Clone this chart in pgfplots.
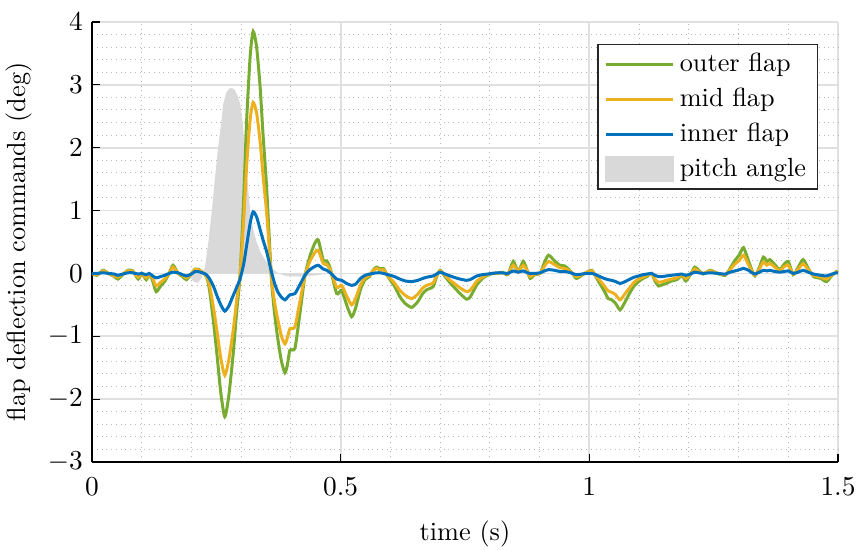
\documentclass[border=0pt]{standalone}
\usepackage{pgfplots}
\usepackage{pgfplotstable}
\pgfplotsset{compat=1.18}

\definecolor{outerc}{RGB}{119,172,48}
\definecolor{midc}{RGB}{237,177,32}
\definecolor{innerc}{RGB}{0,114,189}
\definecolor{pitchc}{RGB}{217,217,217}

% flap deflection commands (deg) of the three flaps
\pgfplotstableread{
t      outer  mid    inner
0.000  0.00   0.00   0.00
0.010 -0.03  -0.02   0.00
0.022  0.05   0.04   0.01
0.033  0.00   0.00   0.00
0.045 -0.05  -0.04  -0.01
0.052 -0.09  -0.06  -0.03
0.062 -0.02  -0.01  -0.01
0.072  0.05   0.04   0.01
0.082  0.04   0.03   0.01
0.093 -0.09  -0.06  -0.01
0.100  0.00   0.00   0.00
0.109 -0.10  -0.07  -0.02
0.115 -0.02  -0.02   0.00
0.122 -0.12  -0.08  -0.04
0.129 -0.29  -0.20  -0.07
0.138 -0.20  -0.14  -0.05
0.146 -0.13  -0.09  -0.03
0.155  0.00   0.00   0.00
0.163  0.13   0.10   0.02
0.173  0.00   0.00   0.01
0.182 -0.05  -0.03  -0.02
0.190 -0.10  -0.07  -0.04
0.200  0.00   0.00  -0.01
0.207  0.07   0.06   0.03
0.213  0.07   0.06   0.03
0.222  0.02   0.02   0.01
0.230 -0.05  -0.04  -0.02
0.236 -0.25  -0.18  -0.08
0.244 -0.75  -0.53  -0.20
0.251 -1.27  -0.90  -0.35
0.259 -1.90  -1.35  -0.50
0.267 -2.28  -1.62  -0.60
0.275 -1.95  -1.38  -0.52
0.284 -1.27  -0.90  -0.35
0.291 -0.60  -0.42  -0.22
0.298  0.00   0.00  -0.08
0.305  1.20   0.85   0.15
0.311  2.44   1.72   0.45
0.318  3.45   2.45   0.80
0.324  3.85   2.72   0.98
0.331  3.60   2.55   0.90
0.338  2.97   2.10   0.70
0.344  2.20   1.55   0.53
0.351  1.38   0.98   0.35
0.361 -0.11  -0.08   0.02
0.368 -0.70  -0.50  -0.18
0.374 -1.06  -0.75  -0.30
0.381 -1.40  -1.00  -0.38
0.388 -1.58  -1.12  -0.42
0.393 -1.45  -1.02  -0.38
0.398 -1.22  -0.88  -0.34
0.408 -1.19  -0.85  -0.32
0.418 -0.64  -0.45  -0.18
0.428 -0.05  -0.04  -0.03
0.438  0.27   0.19   0.06
0.448  0.48   0.33   0.11
0.455  0.53   0.37   0.13
0.465  0.21   0.16   0.07
0.472  0.20   0.14   0.05
0.479  0.08   0.06   0.01
0.492 -0.32  -0.22  -0.09
0.502 -0.27  -0.19  -0.11
0.512 -0.50  -0.36  -0.16
0.522 -0.69  -0.50  -0.19
0.530 -0.55  -0.40  -0.17
0.540 -0.25  -0.18  -0.08
0.549 -0.10  -0.07  -0.03
0.558 -0.05  -0.03  -0.01
0.565  0.05   0.04   0.00
0.572  0.10   0.08   0.01
0.580  0.07   0.05   0.01
0.586  0.08   0.06   0.00
0.595 -0.05  -0.04  -0.02
0.608 -0.20  -0.15  -0.05
0.619 -0.37  -0.27  -0.09
0.630 -0.48  -0.35  -0.12
0.643 -0.54  -0.40  -0.13
0.655 -0.45  -0.33  -0.11
0.665 -0.32  -0.23  -0.08
0.673 -0.26  -0.19  -0.06
0.686 -0.21  -0.15  -0.04
0.693 -0.05  -0.03  -0.01
0.700  0.05   0.04   0.02
0.710 -0.05  -0.03  -0.01
0.720 -0.15  -0.11  -0.04
0.727 -0.21  -0.15  -0.06
0.740 -0.32  -0.23  -0.09
0.753 -0.41  -0.29  -0.11
0.760 -0.38  -0.27  -0.10
0.767 -0.28  -0.20  -0.07
0.774 -0.18  -0.12  -0.04
0.785 -0.08  -0.06  -0.02
0.795 -0.03  -0.02  -0.01
0.805  0.00   0.00   0.00
0.814  0.00   0.00   0.01
0.825  0.02   0.01   0.01
0.836 -0.02  -0.01   0.00
0.847  0.19   0.13   0.04
0.857  0.03   0.03   0.02
0.867  0.19   0.13   0.04
0.875  0.05   0.04   0.01
0.881 -0.08  -0.05   0.00
0.890 -0.02  -0.01   0.00
0.901  0.00   0.00   0.01
0.910  0.18   0.12   0.04
0.918  0.29   0.19   0.06
0.930  0.20   0.14   0.05
0.941  0.13   0.09   0.03
0.950  0.12   0.08   0.03
0.958  0.07   0.05   0.02
0.966  0.00   0.00   0.00
0.974 -0.08  -0.05  -0.02
0.985 -0.03  -0.02  -0.01
0.995  0.02   0.02   0.00
1.005  0.05   0.04   0.00
1.013 -0.05  -0.04  -0.02
1.021 -0.16  -0.11  -0.05
1.030 -0.28  -0.20  -0.08
1.038 -0.40  -0.28  -0.10
1.045 -0.42  -0.30  -0.11
1.053 -0.48  -0.34  -0.13
1.062 -0.58  -0.42  -0.16
1.072 -0.45  -0.32  -0.13
1.082 -0.30  -0.22  -0.09
1.090 -0.20  -0.14  -0.06
1.099 -0.13  -0.09  -0.04
1.108 -0.08  -0.06  -0.02
1.116 -0.05  -0.03  -0.01
1.125  0.00   0.00   0.00
1.132 -0.12  -0.09  -0.03
1.139 -0.20  -0.14  -0.05
1.147 -0.18  -0.13  -0.05
1.155 -0.16  -0.11  -0.04
1.165 -0.12  -0.09  -0.03
1.176 -0.10  -0.07  -0.02
1.186 -0.03  -0.02  -0.01
1.194 -0.12  -0.08  -0.03
1.203 -0.02  -0.01  -0.01
1.212  0.10   0.07   0.02
1.220  0.05   0.03   0.01
1.229 -0.01   0.00   0.00
1.243  0.05   0.04   0.01
1.258  0.00   0.00   0.00
1.273 -0.03  -0.02  -0.01
1.283  0.08   0.06   0.02
1.293  0.21   0.15   0.04
1.302  0.30   0.21   0.06
1.310  0.41   0.29   0.08
1.320  0.20   0.14   0.05
1.327  0.05   0.04   0.01
1.333 -0.04  -0.03  -0.01
1.342  0.10   0.07   0.02
1.350  0.26   0.18   0.05
1.357  0.19   0.13   0.04
1.363  0.22   0.16   0.05
1.373  0.14   0.10   0.03
1.383  0.06   0.04   0.02
1.392  0.15   0.11   0.03
1.400  0.19   0.13   0.04
1.410 -0.02  -0.01   0.00
1.420  0.10   0.07   0.02
1.430  0.22   0.15   0.05
1.440  0.08   0.06   0.02
1.451 -0.05  -0.03  -0.01
1.465 -0.08  -0.06  -0.03
1.477 -0.13  -0.09  -0.04
1.488 -0.03  -0.02  -0.01
1.497  0.03   0.02   0.01
1.500  0.02   0.02   0.01
}\flaps

% pitch angle disturbance
\pgfplotstableread{
t      pitch
0.180  0.00
0.195 -0.03
0.203 -0.12
0.212 -0.15
0.220 -0.08
0.227  0.10
0.234  0.50
0.241  1.00
0.247  1.50
0.253  1.96
0.259  2.35
0.264  2.70
0.270  2.88
0.276  2.94
0.281  2.95
0.287  2.92
0.293  2.82
0.298  2.70
0.303  2.40
0.308  1.96
0.313  1.45
0.318  1.00
0.324  0.70
0.331  0.50
0.340  0.32
0.351  0.18
0.362  0.08
0.375  0.00
0.390 -0.04
0.420 -0.05
0.450 -0.03
0.480  0.00
}\pitch

\begin{document}
\fontsize{10.5}{12.6}\selectfont
\begin{tikzpicture}
\begin{axis}[
  scale only axis,
  width=298.4pt, height=176pt,
  xmin=0, xmax=1.5, ymin=-3, ymax=4,
  xtick={0,0.5,1,1.5},
  ytick={-3,-2,-1,0,1,2,3,4},
  minor x tick num=4, minor y tick num=4,
  grid=both,
  major grid style={draw=black!12, line width=0.7pt},
  minor grid style={draw=black!28, line width=0.4pt, dash pattern=on 0.4pt off 1.5pt},
  axis x line*=bottom, axis y line*=left,
  axis line style={black, line width=0.5pt},
  major tick style={black, line width=0.5pt},
  major tick length=3pt, minor tick length=0pt,
  tick align=inside,
  xticklabel style={yshift=-2.5pt},
  xlabel={time (s)},
  xlabel style={yshift=-3pt},
  ylabel={flap deflection commands (deg)},
  ylabel style={yshift=-1pt},
  legend style={at={(0.973,0.95)}, anchor=north east, draw=black!85,
    line width=0.5pt, fill=white, inner xsep=2.5pt, inner ysep=1.5pt,
    row sep=1pt, cells={anchor=west}},
  legend image code/.code={\draw[#1] (0pt,0pt) -- (27pt,0pt);},
]
\addplot[draw=none, fill=pitchc, forget plot] table[x=t, y=pitch] {\pitch} \closedcycle;
\addplot[outerc, line width=1.2pt, smooth, tension=0.4] table[x=t, y=outer] {\flaps};
\addlegendentry{outer flap}
\addplot[midc, line width=1.2pt, smooth, tension=0.4] table[x=t, y=mid] {\flaps};
\addlegendentry{mid flap}
\addplot[innerc, line width=1.2pt, smooth, tension=0.4] table[x=t, y=inner] {\flaps};
\addlegendentry{inner flap}
\addlegendimage{legend image code/.code={\fill[pitchc] (0pt,-5pt) rectangle (27pt,5pt);}}
\addlegendentry{pitch angle}
\end{axis}
\pgfresetboundingbox
\path ([shift={(-36.8pt,-35.2pt)}]current axis.south west) rectangle ([shift={(8.8pt,8.8pt)}]current axis.north east);
\end{tikzpicture}
\end{document}
